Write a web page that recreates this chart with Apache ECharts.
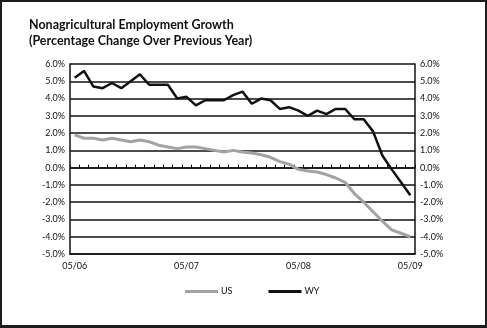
<!DOCTYPE html>
<html>
<head>
<meta charset="utf-8">
<script src="https://cdn.jsdelivr.net/npm/echarts@6/dist/echarts.min.js"></script>
<style>
  html, body { margin: 0; padding: 0; background: #fff; }
  #frame { box-sizing: border-box; width: 487px; height: 328px; border: 2px solid #1c1c1c; border-bottom-width: 3px; position: relative; }
  #chart { position: absolute; left: -2px; top: -2px; width: 487px; height: 328px; }
</style>
</head>
<body>
<div id="frame"><div id="chart"></div></div>
<script>
// Month labels, May 2006 through May 2009
const months = [
  '05/06','06/06','07/06','08/06','09/06','10/06','11/06','12/06','01/07','02/07','03/07','04/07',
  '05/07','06/07','07/07','08/07','09/07','10/07','11/07','12/07','01/08','02/08','03/08','04/08',
  '05/08','06/08','07/08','08/08','09/08','10/08','11/08','12/08','01/09','02/09','03/09','04/09',
  '05/09'
];

// Year-over-year change in nonfarm employment, percent
const usGrowth = [
  1.9, 1.7, 1.7, 1.6, 1.7, 1.6, 1.5, 1.6, 1.5, 1.3, 1.2, 1.1,
  1.2, 1.2, 1.1, 1.0, 0.9, 1.0, 0.9, 0.85, 0.75, 0.6, 0.35, 0.2,
  -0.1, -0.2, -0.25, -0.4, -0.6, -0.85, -1.5, -2.0, -2.55, -3.1, -3.6, -3.8,
  -4.0
];
const wyGrowth = [
  5.2, 5.6, 4.7, 4.6, 4.9, 4.6, 5.0, 5.4, 4.8, 4.8, 4.8, 4.0,
  4.1, 3.6, 3.9, 3.9, 3.9, 4.2, 4.4, 3.7, 4.0, 3.9, 3.4, 3.5,
  3.3, 3.0, 3.3, 3.1, 3.4, 3.4, 2.8, 2.8, 2.1, 0.7, -0.1, -0.85,
  -1.6
];

const titleLines = ['Nonagricultural Employment Growth', '(Percentage Change Over Previous Year)'];
const yMin = -5, yMax = 6, yStep = 1;

const FONT = 'Lato';
const pct = v => v.toFixed(1) + '%';

const yAxisBase = {
  type: 'value', min: yMin, max: yMax, interval: yStep,
  axisLine: { show: true, lineStyle: { color: '#111', width: 1.5 } },
  axisTick: { show: false },
  axisLabel: { formatter: pct, color: '#111', fontSize: 9, fontFamily: FONT, margin: 5 }
};

const chart = echarts.init(document.getElementById('chart'), null, { renderer: 'canvas' });
chart.setOption({
  animation: false,
  backgroundColor: 'transparent',
  title: {
    text: titleLines.join('\n'),
    left: 24, top: 12,
    textStyle: { fontFamily: FONT, fontWeight: 'bold', fontSize: 12.5, lineHeight: 16, color: '#111' }
  },
  grid: { left: 70, right: 72, top: 64, bottom: 74 },
  legend: {
    left: 180, top: 282,
    icon: 'rect',
    itemWidth: 33, itemHeight: 3, itemGap: 36,
    textStyle: { fontFamily: FONT, fontSize: 9, color: '#111', padding: [0, 0, 0, -2] },
    data: ['US', 'WY']
  },
  xAxis: [
    {
      type: 'category', data: months, boundaryGap: true, position: 'bottom',
      axisLine: { onZero: false, lineStyle: { color: '#111', width: 1.5 } },
      axisTick: { show: false },
      axisLabel: { interval: 11, color: '#111', fontSize: 9, fontFamily: FONT, margin: 8 }
    },
    {
      type: 'category', data: months, boundaryGap: true, position: 'bottom',
      axisLine: { onZero: true, lineStyle: { color: '#111', width: 1.5 } },
      axisTick: { show: true, inside: true, length: 3, interval: 0, lineStyle: { color: '#111', width: 1 } },
      axisLabel: { show: false }
    }
  ],
  yAxis: [
    Object.assign({}, yAxisBase, {
      position: 'left',
      splitLine: { show: true, lineStyle: { color: '#111', width: 1.5 } }
    }),
    Object.assign({}, yAxisBase, {
      position: 'right',
      splitLine: { show: false }
    })
  ],
  series: [
    {
      name: 'US', type: 'line', data: usGrowth, symbol: 'none',
      lineStyle: { color: '#a3a3a3', width: 3 }, itemStyle: { color: '#a3a3a3' }
    },
    {
      name: 'WY', type: 'line', data: wyGrowth, symbol: 'none',
      lineStyle: { color: '#111', width: 2.5 }, itemStyle: { color: '#111' }
    }
  ]
});
</script>
</body>
</html>
